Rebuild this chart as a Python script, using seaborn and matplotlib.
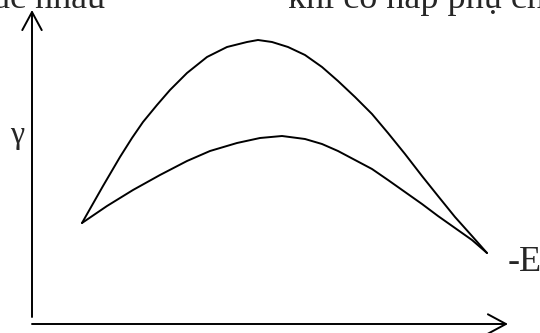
import seaborn as sns
import matplotlib.pyplot as plt
import pandas as pd

# points (E along the axis, gamma up)
e_upper = [50, 71, 88, 100, 111, 125, 138, 155, 175, 195, 215, 226, 240, 256, 273, 290, 306,
           323, 340, 356, 373, 390, 406, 423, 440, 455]
g_upper = [101, 138, 167, 186, 202, 219, 234, 251, 267, 277, 282, 284, 282, 277, 269, 257, 243,
           227, 210, 191, 170, 148, 128, 107, 88, 71]
e_lower = [50, 75, 101, 128, 155, 178, 205, 228, 250, 273, 290, 306, 323,
           340, 356, 373, 390, 406, 423, 440, 455]
g_lower = [101, 118, 134, 149, 163, 173, 181, 186, 188, 185, 180, 173, 164,
           155, 144, 132, 120, 108, 96, 84, 71]

top_left = "khác nhau"
top_right = "khi có hấp phụ chất hoạt động"
y_label = "γ"
x_label = "-E"

df = pd.concat([
    pd.DataFrame({"E": e_upper, "gamma": g_upper, "curve": "upper"}),
    pd.DataFrame({"E": e_lower, "gamma": g_lower, "curve": "lower"}),
])

sns.set_style("white")
plt.rcParams["font.family"] = ["Liberation Serif", "DejaVu Serif"]

fig = plt.figure(figsize=(5.4, 3.33), dpi=100)
ax = fig.add_axes([0, 0, 1, 1])
sns.lineplot(data=df, x="E", y="gamma", units="curve", estimator=None, sort=False,
             color="black", linewidth=1.4, ax=ax)
ax.set_xlim(-32, 508)
ax.set_ylim(-9, 324)
ax.axis("off")

arrow = dict(arrowstyle="->,head_length=1.3,head_width=0.7", lw=1.4, color="black",
             mutation_scale=10, shrinkA=0, shrinkB=0)
ax.annotate("", xy=(0, 314), xytext=(0, 7), arrowprops=arrow)
ax.annotate("", xy=(476, 0), xytext=(0, 0), arrowprops=arrow)

ax.text(-15, 189, y_label, fontsize=23, ha="center", va="center")
ax.text(476, 53, x_label, fontsize=26, ha="left", va="baseline")
ax.text(73, 316, top_left, fontsize=26, ha="right", va="baseline")
ax.text(256, 316, top_right, fontsize=26, ha="left", va="baseline")

fig.savefig("out.png", dpi=100)
